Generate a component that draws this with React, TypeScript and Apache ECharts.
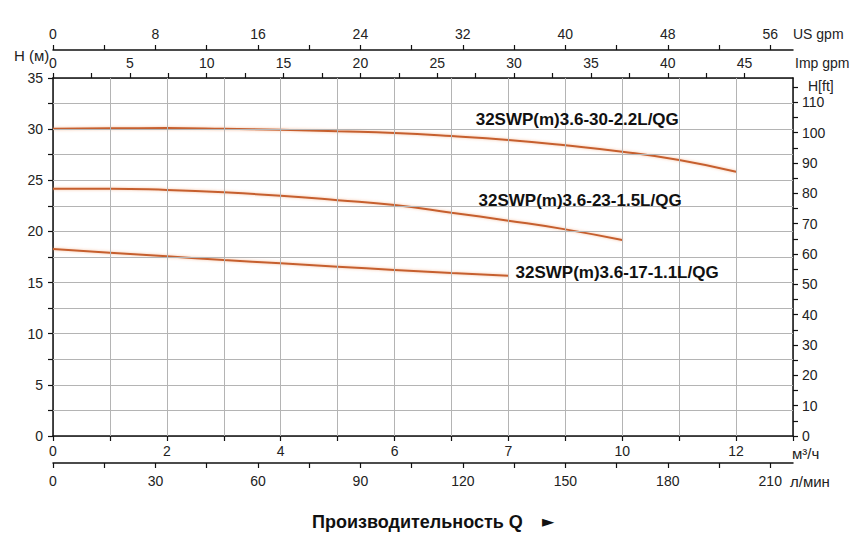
import React, { useEffect, useRef } from "react";
import * as echarts from "echarts";

// flow points, m3/h
const flowQ = [0, 1, 2, 3, 4, 5, 6, 7, 8, 9, 10, 11, 12];

// head, m
const head30 = [30.05, 30.08, 30.1, 30.04, 29.94, 29.79, 29.62, 29.32, 28.94, 28.42, 27.8, 26.98, 25.84];
const head23 = [24.18, 24.18, 24.05, 23.82, 23.49, 23.06, 22.58, 21.83, 21.05, 20.2, 19.16];
const head17 = [18.28, 17.92, 17.57, 17.2, 16.88, 16.55, 16.24, 15.94, 15.67];

const curveNames = ["32SWP(m)3.6-30-2.2L/QG", "32SWP(m)3.6-23-1.5L/QG", "32SWP(m)3.6-17-1.1L/QG"];
// where each curve name sits, in chart units [m3/h, m]
const labelAnchors = [[9.21, 30.9], [9.26, 23.07], [9.91, 15.96]];

// tick labels as printed on the m3/h axis (at 0, 2, 4 ... 12)
const flowLabelText = ["0", "2", "4", "6", "7", "10", "12"];

// grid lines inside the plot
const gridQ = [1, 2, 3, 4, 5, 6, 7, 8, 9, 10, 11, 12];
const gridH = [2.5, 5, 7.5, 10, 12.5, 15, 17.5, 20, 22.5, 25, 27.5, 30, 32.5];

const lpmTicks = [0, 15, 30, 45, 60, 75, 90, 105, 120, 135, 150, 165, 180, 195, 210];
const lpmLabels = [0, 30, 60, 90, 120, 150, 180, 210];
const usTicks = [0, 4, 8, 12, 16, 20, 24, 28, 32, 36, 40, 44, 48, 52, 56];
const usLabels = [0, 8, 16, 24, 32, 40, 48, 56];
const impTicks = [0, 2.5, 5, 7.5, 10, 12.5, 15, 17.5, 20, 22.5, 25, 27.5, 30, 32.5, 35, 37.5, 40, 42.5, 45];
const impLabels = [0, 5, 10, 15, 20, 25, 30, 35, 40, 45];
const ftTicks = [0, 5, 10, 15, 20, 25, 30, 35, 40, 45, 50, 55, 60, 65, 70, 75, 80, 85, 90, 95, 100, 105, 110, 115];
const ftLabels = [0, 10, 20, 30, 40, 50, 60, 70, 80, 90, 100, 110];

const maxQ = 13;
const maxH = 35;
const maxLpm = (maxQ * 1000) / 60;
const maxUs = maxLpm / 3.75;
const maxImp = maxLpm / 4.5;
const maxFt = 118;

const FONT = "'Liberation Sans', Arial, sans-serif";
const CURVE = "#c65f2e";
const GRID = "#b4b4b4";

const axisLine = { show: true, onZero: false, lineStyle: { color: "#111", width: 1.5 } };
const axisTick = { show: true, length: 5, lineStyle: { color: "#111", width: 1.2 } };
const labelBase = { color: "#222", fontSize: 14, fontFamily: FONT };

const txt = (x: number, y: number, text: string, size = 14, extra: Record<string, unknown> = {}) => ({
  type: "text",
  x,
  y,
  silent: true,
  style: {
    text,
    fill: "#222",
    fontSize: size,
    fontFamily: FONT,
    textAlign: "left",
    textVerticalAlign: "middle",
    align: "left",
    verticalAlign: "middle",
    ...extra,
  },
});

const App = () => {
  const chartRef = useRef<HTMLDivElement>(null);

  useEffect(() => {
    document.body.style.margin = "0";
    if (!chartRef.current) return;
    const chart = echarts.init(chartRef.current, null, { renderer: "svg" });

    const heads = [head30, head23, head17];

    const gridSeries = {
      type: "line",
      name: "grid",
      xAxisIndex: 0,
      yAxisIndex: 0,
      data: [],
      silent: true,
      z: 1,
      markLine: {
        silent: true,
        symbol: "none",
        animation: false,
        label: { show: false },
        lineStyle: { color: GRID, width: 1, type: "solid" },
        data: [
          ...gridQ.map((q) => ({ xAxis: q })),
          ...gridH.map((h) => ({ yAxis: h })),
        ],
      },
    };

    const option: echarts.EChartsOption = {
      animation: false,
      backgroundColor: "#fff",
      grid: { left: 53, right: 74, top: 78, bottom: 112, containLabel: false },
      xAxis: [
        {
          type: "value",
          position: "bottom",
          min: 0,
          max: maxQ,
          interval: 1,
          axisLine,
          axisTick,
          splitLine: { show: true, lineStyle: { color: GRID, width: 1, type: "solid" } },
          axisLabel: {
            ...labelBase,
            margin: 8,
            formatter: (v: number) => (v % 2 === 0 ? flowLabelText[v / 2] ?? "" : ""),
          },
        },
        {
          type: "value",
          position: "bottom",
          offset: 27,
          min: 0,
          max: maxLpm,
          axisLine,
          splitLine: { show: false },
          axisTick: { ...axisTick, customValues: lpmTicks },
          axisLabel: { ...labelBase, margin: 11, customValues: lpmLabels },
        },
        {
          type: "value",
          position: "top",
          offset: 28,
          min: 0,
          max: maxUs,
          axisLine,
          splitLine: { show: false },
          axisTick: { ...axisTick, customValues: usTicks },
          axisLabel: { ...labelBase, margin: 9, customValues: usLabels },
        },
        {
          type: "value",
          position: "top",
          offset: 0,
          min: 0,
          max: maxImp,
          axisLine,
          splitLine: { show: false },
          axisTick: { ...axisTick, customValues: impTicks },
          axisLabel: { ...labelBase, margin: 8, customValues: impLabels },
        },
      ],
      yAxis: [
        {
          type: "value",
          position: "left",
          min: 0,
          max: maxH,
          interval: 2.5,
          axisLine,
          axisTick,
          splitLine: { show: true, lineStyle: { color: GRID, width: 1, type: "solid" } },
          axisLabel: {
            ...labelBase,
            margin: 10,
            formatter: (v: number) => (v % 5 === 0 ? String(v) : ""),
          },
        },
        {
          type: "value",
          position: "right",
          min: 0,
          max: maxFt,
          axisLine,
          splitLine: { show: false },
          axisTick: { ...axisTick, customValues: ftTicks },
          axisLabel: { ...labelBase, margin: 9, customValues: ftLabels },
        },
      ],
      series: [
        gridSeries,
        ...heads.map((h, i) => ({
          type: "line",
          name: curveNames[i],
          xAxisIndex: 0,
          yAxisIndex: 0,
          smooth: true,
          showSymbol: false,
          silent: true,
          z: 3,
          lineStyle: {
            color: CURVE,
            width: 2,
            shadowColor: "rgba(240,150,100,0.6)",
            shadowBlur: 3,
          },
          data: h.map((v, k) => [flowQ[k], v]),
          markPoint: {
            silent: true,
            symbol: "circle",
            symbolSize: 1,
            itemStyle: { color: "transparent" },
            label: {
              show: true,
              position: "inside",
              formatter: curveNames[i],
              color: "#111",
              fontSize: 17,
              fontWeight: "bold",
              fontFamily: FONT,
            },
            data: [{ coord: labelAnchors[i] }],
          },
        })),
      ],
      graphic: [
        txt(14, 55, "H (м)", 15),
        txt(793, 34, "US gpm", 14),
        txt(795, 63, "Imp gpm", 14),
        txt(808, 86, "H[ft]", 14),
        txt(792, 453, "м³/ч", 15),
        txt(790, 481, "л/мин", 15),
        txt(312, 522, "Производительность Q", 18, { fill: "#111", fontWeight: "bold" }),
        txt(542, 521, "►", 16, { fill: "#111", fontFamily: "'DejaVu Sans', sans-serif" }),
      ],
    };

    chart.setOption(option);

    return () => {
      chart.dispose();
    };
  }, []);

  return <div ref={chartRef} style={{ width: 867, height: 548 }} />;
};

export default App;
